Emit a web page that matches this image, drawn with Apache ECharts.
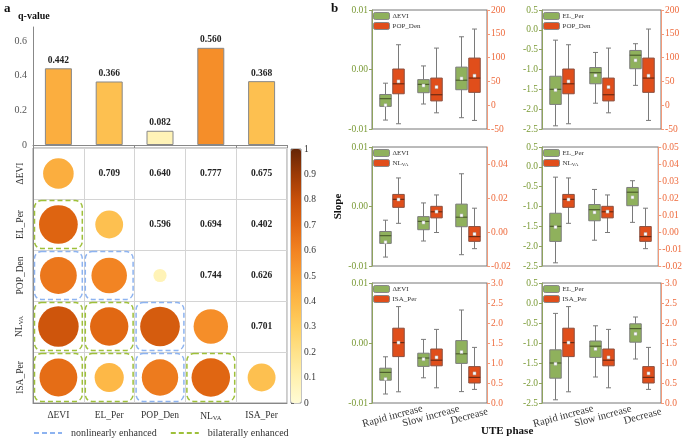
<!DOCTYPE html>
<html><head><meta charset="utf-8">
<script src="https://cdn.jsdelivr.net/npm/echarts@6/dist/echarts.min.js"></script>
<style>html,body{margin:0;padding:0;background:#fff}#c{width:685px;height:440px}</style>
</head><body><div id="c"></div>
<script>
// ---------- DATA ----------
const factors = ['ΔEVI', 'EL_Per', 'POP_Den', 'NL_VA', 'ISA_Per'];
const qValues = [0.442, 0.366, 0.082, 0.560, 0.368];
// lower-triangle interaction q-values: interaction[i][j] for j < i
const interaction = [[], [0.709], [0.640, 0.596], [0.777, 0.694, 0.744], [0.675, 0.402, 0.626, 0.701]];
// N = nonlinearly enhanced, B = bilaterally enhanced
const enhanceType = [[], ['B'], ['N', 'N'], ['B', 'B', 'N'], ['B', 'B', 'N', 'B']];
const colorbarTicks = [0, 0.1, 0.2, 0.3, 0.4, 0.5, 0.6, 0.7, 0.8, 0.9, 1];
const scaleColors = ['#FFFBD5', '#FFF1B0', '#FEE28A', '#FED062', '#FDB847', '#F99F33', '#F28322', '#E06612', '#C8500A', '#9C3A06', '#662506'];

const phases = ['Rapid increase', 'Slow increase', 'Decrease'];
// [min, q1, median, q3, max, mean]
const dEVI = [[-0.0085, -0.0062, -0.0049, -0.0042, -0.0023, -0.0060], [-0.0058, -0.0039, -0.0025, -0.0017, 0.0006, -0.0027], [-0.0081, -0.0034, -0.0018, 0.0004, 0.0055, -0.0015]];
const elPer = [[-2.42, -1.88, -1.50, -1.17, -0.26, -1.52], [-1.85, -1.36, -1.08, -0.95, -0.57, -1.15], [-1.40, -0.98, -0.64, -0.52, -0.35, -0.77]];
const popDen = [[-39, 24, 45, 76, 127, 50], [-16, 9, 22, 57, 120, 38], [-32, 27, 57, 99, 160, 62]];
const nlVA = [[0.0051, 0.0145, 0.0192, 0.0221, 0.0318, 0.0191], [-0.0003, 0.0083, 0.0119, 0.0151, 0.0218, 0.0120], [-0.0098, -0.0055, -0.0027, 0.0032, 0.0140, -0.0012]];
const isaPer = [[0.28, 1.16, 1.51, 1.87, 2.41, 1.51], [0.38, 0.93, 1.07, 1.35, 1.84, 1.14], [0.34, 0.50, 0.64, 0.91, 1.39, 0.74]];

// ---------- STYLE ----------
const FONT = 'Liberation Serif';
const GREEN = '#8FB15C', ORANGE = '#E04E1B';
const GREEN_TXT = '#7A9A36', ORANGE_TXT = '#EE6A3C';
const BLUE_DASH = '#8DB3F0', GREEN_DASH = '#9EC03A';
const richSub = {s: {fontSize: 6.5, fontFamily: FONT, padding: [5, 0, 0, 0], color: '#333'}};
function fmtName(n) { return n === 'NL_VA' ? 'NL{s|VA}' : n; }

const option = {
  animation: false, backgroundColor: '#fff', textStyle: {fontFamily: FONT},
  grid: [], xAxis: [], yAxis: [], series: [], legend: [],
  graphic: [
    {type: 'text', left: 4, top: 2, style: {text: 'a', font: 'bold 13px ' + FONT, fill: '#111'}},
    {type: 'text', left: 331, top: 2, style: {text: 'b', font: 'bold 13px ' + FONT, fill: '#111'}},
    {type: 'text', left: 18, top: 11, style: {text: 'q-value', font: 'bold 10px ' + FONT, fill: '#111'}},
    {type: 'text', left: 481, top: 426, style: {text: 'UTE phase', font: 'bold 11px ' + FONT, fill: '#111'}}
  ],
  visualMap: [
    {type: 'continuous', min: 0, max: 1, seriesIndex: 1, dimension: 2, inRange: {color: scaleColors},
     calculable: false, orient: 'vertical', itemWidth: 10, itemHeight: 254, left: 291, top: 149, padding: 0, text: null, hoverLink: false},
    {type: 'continuous', show: false, min: 0, max: 1, seriesIndex: 0, dimension: 1, inRange: {color: scaleColors}}
  ]
};

// ----- q-value bars -----
option.grid.push({left: 33, top: 27, width: 254, height: 118});
option.xAxis.push({gridIndex: 0, type: 'category', data: factors,
  axisLine: {lineStyle: {color: '#888'}}, axisTick: {show: true, length: 3, lineStyle: {color: '#888'}}, axisLabel: {show: false}});
option.yAxis.push({gridIndex: 0, type: 'value', min: 0, max: 0.68, interval: 0.2,
  axisLine: {show: true, lineStyle: {color: '#888'}}, axisTick: {show: false}, splitLine: {show: false},
  axisLabel: {showMaxLabel: false, color: '#555', fontFamily: FONT, fontSize: 10, margin: 6, formatter: v => (v === 0 ? '0' : v.toFixed(1))}});
option.series.push({type: 'bar', xAxisIndex: 0, yAxisIndex: 0, data: qValues, barWidth: 27,
  itemStyle: {borderColor: '#888', borderWidth: 1},
  label: {show: true, position: 'top', distance: 3, fontFamily: FONT, fontWeight: 'bold', fontSize: 9.5, color: '#222', formatter: p => p.value.toFixed(3)}});

// ----- interaction matrix -----
option.grid.push({left: 33, top: 148, width: 254, height: 255, show: true, borderColor: '#999', borderWidth: 1});
option.xAxis.push({gridIndex: 1, type: 'category', data: factors, position: 'bottom',
  axisLine: {lineStyle: {color: '#888'}}, axisTick: {show: false}, splitLine: {show: true, interval: 0, lineStyle: {color: '#d4d4d4'}},
  axisLabel: {interval: 0, color: '#333', fontFamily: FONT, fontSize: 9.5, margin: 7, formatter: fmtName, rich: richSub}});
option.yAxis.push({gridIndex: 1, type: 'category', data: factors, inverse: true,
  axisLine: {lineStyle: {color: '#888'}}, axisTick: {show: false}, splitLine: {show: true, interval: 0, lineStyle: {color: '#d4d4d4'}},
  axisLabel: {interval: 0, rotate: 90, color: '#333', fontFamily: FONT, fontSize: 9.5, margin: 8, formatter: fmtName, rich: richSub}});

const circleData = [], textData = [], nonlinData = [], bilatData = [];
for (let i = 0; i < factors.length; i++) {
  for (let j = 0; j < factors.length; j++) {
    if (j === i) circleData.push([j, i, qValues[i]]);
    else if (j < i) { circleData.push([j, i, interaction[i][j]]); (enhanceType[i][j] === 'N' ? nonlinData : bilatData).push([j, i]); }
    else textData.push([j, i, interaction[j][i]]);
  }
}
option.series.push({type: 'scatter', xAxisIndex: 1, yAxisIndex: 1, data: circleData, symbolSize: d => 46 * Math.sqrt(d[2]),
  itemStyle: {opacity: 1}, z: 3});
option.series.push({type: 'custom', xAxisIndex: 1, yAxisIndex: 1, data: textData, clip: false,
  renderItem: (params, api) => {
    const c = api.coord([api.value(0), api.value(1)]);
    return {type: 'text', x: c[0], y: c[1], style: {text: api.value(2).toFixed(3), font: 'bold 9.5px ' + FONT, fill: '#222', align: 'center', verticalAlign: 'middle'}};
  }});
function rectRender(color) {
  return (params, api) => {
    const c = api.coord([api.value(0), api.value(1)]);
    const s = api.size([1, 1]);
    const pad = 1.5;
    return {type: 'rect', shape: {x: c[0] - s[0] / 2 + pad, y: c[1] - s[1] / 2 + pad, width: s[0] - 2 * pad, height: s[1] - 2 * pad, r: 7},
      style: {fill: 'none', stroke: color, lineWidth: 1.5, lineDash: [5, 3]}, z2: 5};
  };
}
option.series.push({name: 'nonlinearly enhanced', type: 'custom', xAxisIndex: 1, yAxisIndex: 1, data: nonlinData, clip: false,
  itemStyle: {color: BLUE_DASH}, renderItem: rectRender(BLUE_DASH), z: 4});
option.series.push({name: 'bilaterally enhanced', type: 'custom', xAxisIndex: 1, yAxisIndex: 1, data: bilatData, clip: false,
  itemStyle: {color: GREEN_DASH}, renderItem: rectRender(GREEN_DASH), z: 4});
const dashIcon = 'path://M0,0h5v2h-5z M8,0h5v2h-5z M16,0h5v2h-5z M24,0h4v2h-4z';
option.legend.push({data: [{name: 'nonlinearly enhanced', icon: dashIcon}, {name: 'bilaterally enhanced', icon: dashIcon}],
  left: 34, top: 428, itemWidth: 28, itemHeight: 2, itemGap: 14, padding: 0, selectedMode: false,
  textStyle: {fontFamily: FONT, fontSize: 10, color: '#333', padding: [0, 0, 0, 4]}});

// ----- colorbar ticks -----
option.grid.push({left: 291, top: 149, width: 10, height: 254, show: true, borderColor: '#888', borderWidth: 1});
option.xAxis.push({gridIndex: 2, type: 'value', show: false});
option.yAxis.push({gridIndex: 2, type: 'value', position: 'right', min: colorbarTicks[0], max: colorbarTicks[colorbarTicks.length - 1], interval: 0.1,
  axisLine: {show: false}, axisTick: {show: true, length: 3, lineStyle: {color: '#666'}}, splitLine: {show: false},
  axisLabel: {color: '#333', fontFamily: FONT, fontSize: 9.5, margin: 3, formatter: v => String(parseFloat(v.toFixed(1)))}});

// ----- panel b: box plots -----
function fmtNum(dec) { return v => (Math.abs(v) < 1e-12 ? 0 : v).toFixed(dec); }
const panels = [
  {grid: {left: 372, top: 10, width: 115, height: 119}, L: dEVI, R: popDen, names: ['ΔEVI', 'POP_Den'],
   la: {min: -0.01, max: 0.01, interval: 0.01, dec: 2}, ra: {min: -50, max: 200, interval: 50, dec: 0}, labels: false},
  {grid: {left: 542, top: 10, width: 119, height: 119}, L: elPer, R: popDen, names: ['EL_Per', 'POP_Den'],
   la: {min: -2.5, max: 0.5, interval: 0.5, dec: 1}, ra: {min: -50, max: 200, interval: 50, dec: 0}, labels: false},
  {grid: {left: 372, top: 147, width: 115, height: 119}, L: dEVI, R: nlVA, names: ['ΔEVI', 'NL_VA'],
   la: {min: -0.01, max: 0.01, interval: 0.01, dec: 2}, ra: {min: -0.02, max: 0.05, interval: 0.02, dec: 2, hideMax: true}, labels: false, slope: true},
  {grid: {left: 542, top: 147, width: 119, height: 119}, L: elPer, R: nlVA, names: ['EL_Per', 'NL_VA'],
   la: {min: -2.5, max: 0.5, interval: 0.5, dec: 1}, ra: {min: -0.02, max: 0.05, interval: 0.01, dec: 2}, labels: false},
  {grid: {left: 372, top: 283, width: 115, height: 120}, L: dEVI, R: isaPer, names: ['ΔEVI', 'ISA_Per'],
   la: {min: -0.01, max: 0.01, interval: 0.01, dec: 2}, ra: {min: 0, max: 3, interval: 0.5, dec: 1}, labels: true},
  {grid: {left: 542, top: 283, width: 119, height: 120}, L: elPer, R: isaPer, names: ['EL_Per', 'ISA_Per'],
   la: {min: -2.5, max: 0.5, interval: 0.5, dec: 1}, ra: {min: 0, max: 3, interval: 0.5, dec: 1}, labels: true}
];

function boxRender(offset, fill, border, medColor) {
  return (params, api) => {
    const xi = api.value(0);
    const p = k => api.coord([xi, api.value(k)]);
    const pMin = p(1), pQ1 = p(2), pMed = p(3), pQ3 = p(4), pMax = p(5), pMean = p(6);
    const cx = Math.round(pMin[0] + offset) + 0.5, hw = 5.75, cap = 2.5;
    const ls = {stroke: '#7a7a7a', lineWidth: 1};
    const L = (x1, y1, x2, y2, st) => ({type: 'line', shape: {x1, y1, x2, y2}, style: st});
    return {type: 'group', children: [
      L(cx, pMax[1], cx, pQ3[1], ls),
      L(cx, pQ1[1], cx, pMin[1], ls),
      L(cx - cap, pMax[1], cx + cap, pMax[1], ls),
      L(cx - cap, pMin[1], cx + cap, pMin[1], ls),
      {type: 'rect', shape: {x: cx - hw, y: pQ3[1], width: 2 * hw, height: pQ1[1] - pQ3[1]}, style: {fill: fill, stroke: border, lineWidth: 1}},
      L(cx - hw, pMed[1], cx + hw, pMed[1], {stroke: medColor, lineWidth: 1.2}),
      {type: 'rect', shape: {x: cx - 1.5, y: pMean[1] - 1.5, width: 3, height: 3}, style: {fill: '#fff', stroke: '#aaa', lineWidth: 0.5}}
    ]};
  };
}

panels.forEach((pn, k) => {
  const gi = 3 + k;
  option.grid.push(Object.assign({show: true, borderColor: '#777', borderWidth: 1}, pn.grid));
  option.xAxis.push({gridIndex: gi, type: 'category', data: phases, position: 'bottom',
    axisLine: {show: false, onZero: false},
    axisTick: {show: false},
    axisLabel: pn.labels ? {show: true, interval: 0, rotate: 15, align: 'center', verticalAlign: 'top', margin: 8,
      color: '#333', fontFamily: FONT, fontSize: 10.5} : {show: false}});
  const leftIdx = option.yAxis.length;
  option.yAxis.push({gridIndex: gi, type: 'value', position: 'left', min: pn.la.min, max: pn.la.max, interval: pn.la.interval,
    name: pn.slope ? 'Slope' : '', nameLocation: 'middle', nameGap: 28,
    nameTextStyle: {fontFamily: FONT, fontWeight: 'bold', fontSize: 11, color: '#111'},
    axisLine: {show: true, onZero: false, lineStyle: {color: '#8FA45E'}}, axisTick: {show: true, length: 3, lineStyle: {color: '#8FA45E'}},
    splitLine: {show: false},
    axisLabel: {color: GREEN_TXT, fontFamily: FONT, fontSize: 9.5, margin: 4, formatter: fmtNum(pn.la.dec)}});
  const rightIdx = option.yAxis.length;
  option.yAxis.push({gridIndex: gi, type: 'value', position: 'right', min: pn.ra.min, max: pn.ra.max, interval: pn.ra.interval,
    axisLine: {show: true, onZero: false, lineStyle: {color: '#F29A7A'}}, axisTick: {show: true, length: 3, lineStyle: {color: '#F29A7A'}},
    splitLine: {show: false},
    axisLabel: {color: ORANGE_TXT, fontFamily: FONT, fontSize: 9.5, margin: 4, showMaxLabel: pn.ra.hideMax ? false : true, formatter: fmtNum(pn.ra.dec)}});
  option.series.push({name: pn.names[0], type: 'custom', xAxisIndex: gi, yAxisIndex: leftIdx, clip: false,
    itemStyle: {color: GREEN, borderColor: '#777', borderWidth: 1},
    encode: {x: 0, y: [1, 2, 3, 4, 5, 6]},
    data: pn.L.map((r, c) => [c].concat(r)), renderItem: boxRender(-6.5, GREEN, '#7d7d7d', '#4E5F2E')});
  option.series.push({name: pn.names[1], type: 'custom', xAxisIndex: gi, yAxisIndex: rightIdx, clip: false,
    itemStyle: {color: ORANGE, borderColor: '#777', borderWidth: 1},
    encode: {x: 0, y: [1, 2, 3, 4, 5, 6]},
    data: pn.R.map((r, c) => [c].concat(r)), renderItem: boxRender(6.5, ORANGE, '#8a5040', '#6E2A12')});
  option.legend.push({data: pn.names, orient: 'vertical', left: pn.grid.left + 1, top: pn.grid.top + 2,
    itemWidth: 16, itemHeight: 7, itemGap: 2, padding: 0, selectedMode: false,
    itemStyle: {borderColor: '#888', borderWidth: 1},
    textStyle: {fontFamily: FONT, fontSize: 7, color: '#333', padding: [0, 0, 0, -2],
      rich: {s: {fontSize: 5, fontFamily: FONT, padding: [3, 0, 0, 0], color: '#333'}}},
    formatter: fmtName});
});

const chart = echarts.init(document.getElementById('c'), null, {renderer: 'canvas'});
chart.setOption(option);
</script>
</body></html>
